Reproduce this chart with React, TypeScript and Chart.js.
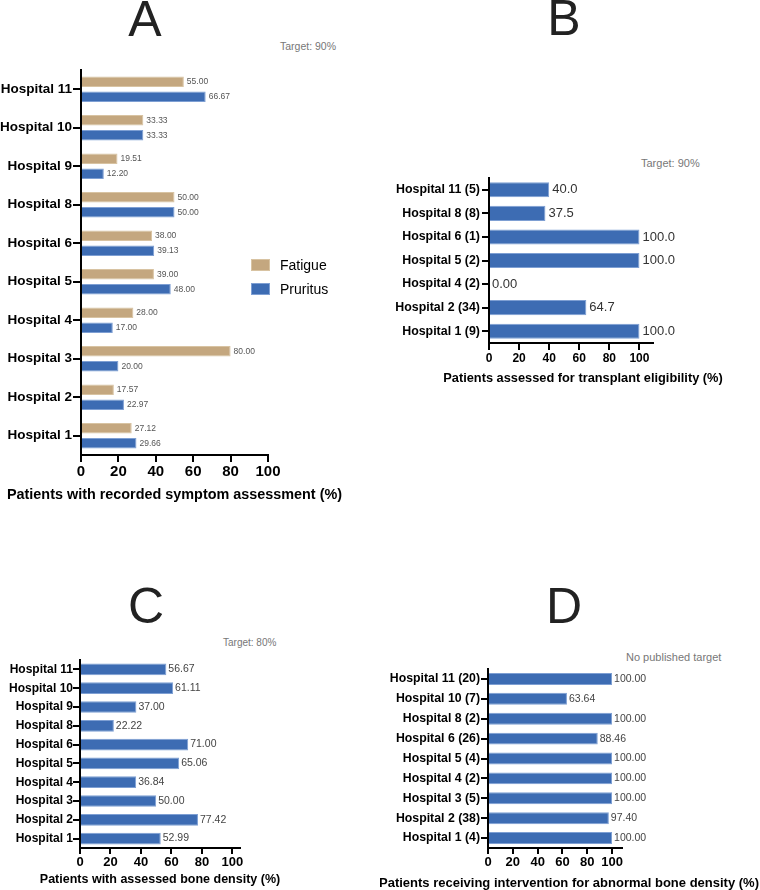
import React, { useEffect, useRef } from "react";
import { Chart, registerables } from "chart.js";

Chart.register(...registerables);

const FONT_FAMILY = '"Liberation Sans", Arial, Helvetica, sans-serif';

// ---------- Data ----------
const symptomHospitals = [
  "Hospital 11", "Hospital 10", "Hospital 9", "Hospital 8", "Hospital 6",
  "Hospital 5", "Hospital 4", "Hospital 3", "Hospital 2", "Hospital 1",
];
const fatigueValues = [55.0, 33.33, 19.51, 50.0, 38.0, 39.0, 28.0, 80.0, 17.57, 27.12];
const pruritusValues = [66.67, 33.33, 12.2, 50.0, 39.13, 48.0, 17.0, 20.0, 22.97, 29.66];

const transplantHospitals = [
  "Hospital 11 (5)", "Hospital 8 (8)", "Hospital 6 (1)", "Hospital 5 (2)",
  "Hospital 4 (2)", "Hospital 2 (34)", "Hospital 1 (9)",
];
const transplantValues = [40.0, 37.5, 100.0, 100.0, 0.0, 64.7, 100.0];

const boneHospitals = [
  "Hospital 11", "Hospital 10", "Hospital 9", "Hospital 8", "Hospital 6",
  "Hospital 5", "Hospital 4", "Hospital 3", "Hospital 2", "Hospital 1",
];
const boneDensityValues = [56.67, 61.11, 37.0, 22.22, 71.0, 65.06, 36.84, 50.0, 77.42, 52.99];

const interventionHospitals = [
  "Hospital 11 (20)", "Hospital 10 (7)", "Hospital 8 (2)", "Hospital 6 (26)",
  "Hospital 5 (4)", "Hospital 4 (2)", "Hospital 3 (5)", "Hospital 2 (38)", "Hospital 1 (4)",
];
const interventionValues = [100.0, 63.64, 100.0, 88.46, 100.0, 100.0, 100.0, 97.4, 100.0];

const percentTicks = [0, 20, 40, 60, 80, 100];

const TAN = "#C4A77F";
const TAN_BORDER = "#D8C3A2";
const BLUE = "#3D6CB3";
const BLUE_BORDER = "#7E9FD3";

// ---------- Plugins ----------
function makeValueLabels(size: number, color: string, offset: number, format: (v: number) => string) {
  return {
    id: "valueLabels",
    afterDatasetsDraw(chart: any) {
      const ctx = chart.ctx;
      ctx.save();
      ctx.font = `${size}px ${FONT_FAMILY}`;
      ctx.fillStyle = color;
      ctx.textAlign = "left";
      ctx.textBaseline = "middle";
      chart.data.datasets.forEach((ds: any, di: number) => {
        const meta = chart.getDatasetMeta(di);
        meta.data.forEach((bar: any, i: number) => {
          ctx.fillText(format(ds.data[i]), bar.x + offset, bar.y);
        });
      });
      ctx.restore();
    },
  };
}

function makeAxisTitle(text: string, size: number, dx: number, dy: number) {
  return {
    id: "axisTitleCustom",
    afterDraw(chart: any) {
      const { ctx, chartArea } = chart;
      ctx.save();
      ctx.font = `bold ${size}px ${FONT_FAMILY}`;
      ctx.fillStyle = "#000";
      ctx.textAlign = "center";
      ctx.textBaseline = "middle";
      ctx.fillText(text, (chartArea.left + chartArea.right) / 2 + dx, chartArea.bottom + dy);
      ctx.restore();
    },
  };
}

type DS = { label: string; data: number[]; color: string; border: string };
type Spec = {
  left: number; top: number; width: number; height: number;
  labels: string[]; datasets: DS[]; xMax: number;
  yAxisWidth: number; xAxisHeight: number; padTop: number; padRight: number;
  yFont: number; yTickLen: number; yPad: number;
  xFont: number; xTickLen: number; xPad: number;
  barPct: number; catPct: number;
  valueFont: number; valueColor: string; valueOffset: number; format: (v: number) => string;
  title: string; titleFont: number; titleDx: number; titleDy: number;
};

function BarPanel({ spec }: { spec: Spec }) {
  const ref = useRef<HTMLCanvasElement | null>(null);
  useEffect(() => {
    if (!ref.current) return;
    const s = spec;
    const chart = new Chart(ref.current, {
      type: "bar",
      data: {
        labels: s.labels,
        datasets: s.datasets.map((d) => ({
          label: d.label,
          data: d.data,
          backgroundColor: d.color,
          borderColor: d.border,
          borderWidth: 1,
          barPercentage: s.barPct,
          categoryPercentage: s.catPct,
        })),
      },
      options: {
        indexAxis: "y",
        responsive: false,
        animation: false,
        devicePixelRatio: 1,
        layout: { padding: { top: s.padTop, right: s.padRight, left: 0, bottom: 0 } },
        plugins: { legend: { display: false }, tooltip: { enabled: false } },
        scales: {
          y: {
            type: "category",
            afterFit: (scale: any) => { scale.width = s.yAxisWidth; },
            ticks: {
              color: "#000",
              font: { family: FONT_FAMILY, size: s.yFont, weight: "bold" },
              padding: s.yPad,
              autoSkip: false,
            },
            grid: {
              display: true,
              drawOnChartArea: false,
              drawTicks: true,
              offset: false,
              tickLength: s.yTickLen,
              color: "#000",
              lineWidth: 2,
            },
            border: { display: true, color: "#000", width: 2 },
          },
          x: {
            type: "linear",
            min: 0,
            max: s.xMax,
            afterFit: (scale: any) => { scale.height = s.xAxisHeight; },
            afterBuildTicks: (scale: any) => {
              scale.ticks = percentTicks.map((v) => ({ value: v }));
            },
            ticks: {
              color: "#000",
              font: { family: FONT_FAMILY, size: s.xFont, weight: "bold" },
              padding: s.xPad,
              maxRotation: 0,
              autoSkip: false,
            },
            grid: {
              display: true,
              drawOnChartArea: false,
              drawTicks: true,
              tickLength: s.xTickLen,
              color: "#000",
              lineWidth: 2,
            },
            border: { display: true, color: "#000", width: 2 },
          },
        },
      } as any,
      plugins: [
        makeValueLabels(s.valueFont, s.valueColor, s.valueOffset, s.format),
        makeAxisTitle(s.title, s.titleFont, s.titleDx, s.titleDy),
      ],
    });
    return () => chart.destroy();
  }, []);
  return (
    <canvas
      ref={ref}
      width={spec.width}
      height={spec.height}
      style={{ position: "absolute", left: spec.left, top: spec.top, width: spec.width, height: spec.height, display: "block" }}
    />
  );
}

const fmt2 = (v: number) => v.toFixed(2);
const fmt1 = (v: number) => (v === 0 ? "0.00" : v.toFixed(1));

const panelA: Spec = {
  left: 0, top: 60, width: 380, height: 450,
  labels: symptomHospitals,
  datasets: [
    { label: "Fatigue", data: fatigueValues, color: TAN, border: TAN_BORDER },
    { label: "Pruritus", data: pruritusValues, color: BLUE, border: BLUE_BORDER },
  ],
  xMax: 100,
  yAxisWidth: 81, xAxisHeight: 55, padTop: 10, padRight: 112,
  yFont: 13.5, yTickLen: 8, yPad: 1,
  xFont: 15, xTickLen: 7, xPad: 1,
  barPct: 0.71, catPct: 0.77,
  valueFont: 8.5, valueColor: "#555", valueOffset: 3, format: fmt2,
  title: "Patients with recorded symptom assessment (%)", titleFont: 14.4, titleDx: 0, titleDy: 40,
};

const panelB: Spec = {
  left: 380, top: 168, width: 380, height: 224,
  labels: transplantHospitals,
  datasets: [{ label: "Transplant eligibility", data: transplantValues, color: BLUE, border: BLUE_BORDER }],
  xMax: 109,
  yAxisWidth: 109, xAxisHeight: 49, padTop: 10, padRight: 107,
  yFont: 12.4, yTickLen: 7, yPad: 2,
  xFont: 12, xTickLen: 7, xPad: 1,
  barPct: 0.64, catPct: 1,
  valueFont: 13, valueColor: "#333", valueOffset: 3, format: fmt1,
  title: "Patients assessed for transplant eligibility (%)", titleFont: 12.8, titleDx: 12, titleDy: 35,
};

const panelC: Spec = {
  left: 0, top: 650, width: 380, height: 240,
  labels: boneHospitals,
  datasets: [{ label: "Bone density", data: boneDensityValues, color: BLUE, border: BLUE_BORDER }],
  xMax: 105,
  yAxisWidth: 80, xAxisHeight: 42, padTop: 10, padRight: 140,
  yFont: 12, yTickLen: 7, yPad: 0,
  xFont: 13, xTickLen: 6, xPad: 1,
  barPct: 0.62, catPct: 1,
  valueFont: 10.5, valueColor: "#444", valueOffset: 2, format: fmt2,
  title: "Patients with assessed bone density (%)", titleFont: 12.5, titleDx: 0, titleDy: 32,
};

const panelD: Spec = {
  left: 380, top: 660, width: 380, height: 230,
  labels: interventionHospitals,
  datasets: [{ label: "Intervention", data: interventionValues, color: BLUE, border: BLUE_BORDER }],
  xMax: 108,
  yAxisWidth: 108, xAxisHeight: 42, padTop: 9, padRight: 138,
  yFont: 12.3, yTickLen: 7, yPad: 1,
  xFont: 13, xTickLen: 6, xPad: 1,
  barPct: 0.6, catPct: 1,
  valueFont: 10.5, valueColor: "#444", valueOffset: 2, format: fmt2,
  title: "Patients receiving intervention for abnormal bone density (%)", titleFont: 13, titleDx: 14, titleDy: 35,
};

function Letter({ ch, cx, baseline }: { ch: string; cx: number; baseline: number }) {
  return (
    <div
      style={{
        position: "absolute", left: cx - 50, top: baseline - 42.3, width: 100, textAlign: "center",
        font: `50px ${FONT_FAMILY}`, lineHeight: "50px", color: "#222",
      }}
    >
      {ch}
    </div>
  );
}

function Note({ text, left, baseline, size }: { text: string; left: number; baseline: number; size: number }) {
  return (
    <div
      style={{
        position: "absolute", left, top: baseline - 0.8465 * size, whiteSpace: "nowrap",
        font: `${size}px ${FONT_FAMILY}`, lineHeight: `${size}px`, color: "#777",
      }}
    >
      {text}
    </div>
  );
}

function LegendItem({ label, color, border, top }: { label: string; color: string; border: string; top: number }) {
  return (
    <>
      <div style={{ position: "absolute", left: 251, top, width: 19, height: 12, background: color, boxSizing: "border-box", border: `1px solid ${border}` }} />
      <div
        style={{
          position: "absolute", left: 280, top: top + 6 - 7, whiteSpace: "nowrap",
          font: `14px ${FONT_FAMILY}`, lineHeight: "14px", color: "#000",
        }}
      >
        {label}
      </div>
    </>
  );
}

export default function App() {
  return (
    <div style={{ position: "absolute", left: 0, top: 0, width: 760, height: 890, overflow: "hidden", background: "#fff" }}>
      <Letter ch="A" cx={145} baseline={36} />
      <Letter ch="B" cx={564} baseline={35} />
      <Letter ch="C" cx={146} baseline={623} />
      <Letter ch="D" cx={564} baseline={623} />

      <Note text="Target: 90%" left={280} baseline={50} size={10.5} />
      <Note text="Target: 90%" left={641} baseline={167} size={11} />
      <Note text="Target: 80%" left={223} baseline={646} size={10} />
      <Note text="No published target" left={626} baseline={661} size={11} />

      <BarPanel spec={panelA} />
      <BarPanel spec={panelB} />
      <BarPanel spec={panelC} />
      <BarPanel spec={panelD} />

      <LegendItem label="Fatigue" color={TAN} border={TAN_BORDER} top={259} />
      <LegendItem label="Pruritus" color={BLUE} border={BLUE_BORDER} top={283} />
    </div>
  );
}
